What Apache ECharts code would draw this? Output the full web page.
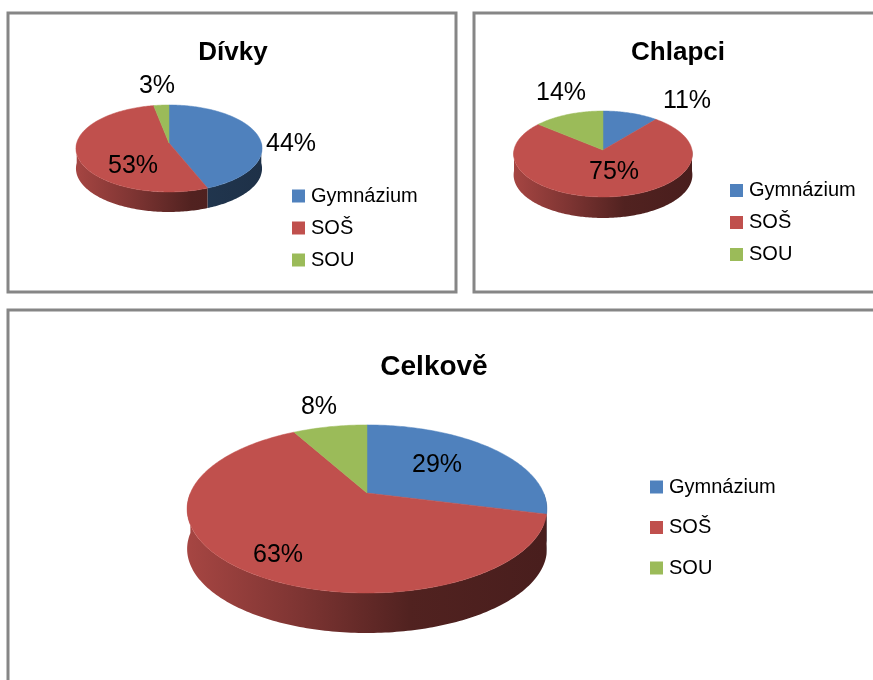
<!DOCTYPE html>
<html><head><meta charset="utf-8">
<style>html,body{margin:0;padding:0;background:#fff}#c{width:873px;height:680px}</style>
<script src="https://cdn.jsdelivr.net/npm/echarts@6/dist/echarts.min.js"></script>
</head><body><div id="c"></div>
<script>
// ---- data ----
const categories = ['Gymnázium', 'SOŠ', 'SOU'];
const panelTitles = ['Dívky', 'Chlapci', 'Celkově'];
const gymnazium = [44, 11, 29];
const sos = [53, 75, 63];
const sou = [3, 14, 8];
const seriesValues = [gymnazium, sos, sou];
const colors = ['#4f81bd', '#c0504d', '#9bbb59'];

// ---- layout (pixels) ----
const pies = [
  {cx:169, cy:143, rx:92.3, ry:42.8, k:0.126, depth:20, labels:[[122,1],[-36,23],[-12,-57]]},
  {cx:603, cy:150, rx:89,   ry:42.6, k:0.093, depth:21, labels:[[84,-49],[11,22],[-42,-57]]},
  {cx:367, cy:493, rx:176.6,ry:81,   k:0.19,  depth:40, labels:[[70,-28],[-89,62],[-48,-86]]}
];
const frames = [[8,13,448,279],[474,13,420,279],[8,310,900,400]];
const titleAt = [[233,40,26],[678,40,26],[434,353,28]];
const legendAt = [[292,186,12],[730,180.5,12],[650,477,20.5]];

const shadeStops = [[0,0.86],[0.3,0.66],[0.62,0.42],[1,0.38]];

function rim(p, deg) {
  const t = deg * Math.PI / 180, u = Math.sin(t), v = Math.cos(t), w = 1 + p.k * v;
  return [p.cx + p.rx * u / w, p.cy - p.ry * v / w];
}
function shade(hex, f) {
  const n = parseInt(hex.slice(1), 16);
  return 'rgb(' + [(n>>16)&255,(n>>8)&255,n&255].map(c => Math.round(c*f)).join(',') + ')';
}
function arc(p, a, b) {
  const pts = [], n = Math.max(2, Math.ceil(Math.abs(b - a)));
  for (let i = 0; i <= n; i++) pts.push(rim(p, a + (b - a) * i / n));
  return pts;
}
function renderSlice(si) {
  return function (params, api) {
    const i = params.dataIndex, p = pies[i], value = api.value(0);
    let before = 0;
    for (let s = 0; s < si; s++) before += seriesValues[s][i];
    const total = seriesValues.reduce((acc, s) => acc + s[i], 0);
    const a = before / total * 360, b = (before + value) / total * 360;
    const children = [];
    const wa = Math.max(a, 90), wb = Math.min(b, 270);
    if (wb > wa) {
      const top = arc(p, wa, wb);
      const bottom = top.map(q => [q[0], q[1] + p.depth]).reverse();
      const x0 = p.cx - p.rx, x1 = p.cx + p.rx;
      children.push({
        type: 'polygon', shape: {points: top.concat(bottom)},
        style: {fill: new echarts.graphic.LinearGradient(x0, 0, x1, 0,
          shadeStops.map(s => ({offset: s[0], color: shade(colors[si], s[1])})), true)}
      });
    }
    children.push({
      type: 'polygon', shape: {points: [[p.cx, p.cy]].concat(arc(p, a, b))},
      style: {fill: colors[si], stroke: colors[si], lineWidth: 0.5}
    });
    children.push({
      type: 'text', z2: 100,
      style: {x: p.cx + p.labels[si][0], y: p.cy + p.labels[si][1], text: value + '%',
        fill: '#000', font: '25px "Liberation Sans"', align: 'center', verticalAlign: 'middle'}
    });
    return {type: 'group', children};
  };
}

const chart = echarts.init(document.getElementById('c'), null, {renderer: 'canvas'});
chart.setOption({
  animation: false,
  color: colors,
  title: panelTitles.map((t, i) => ({
    text: t, left: titleAt[i][0], top: titleAt[i][1], textAlign: 'center', padding: 0,
    textStyle: {fontFamily: 'Liberation Sans', fontWeight: 'bold', fontSize: titleAt[i][2], color: '#000'}
  })),
  legend: legendAt.map(l => ({
    data: categories, orient: 'vertical', left: l[0], top: l[1], padding: 0,
    icon: 'rect', itemWidth: 13, itemHeight: 13, itemGap: l[2], selectedMode: false,
    textStyle: {fontFamily: 'Liberation Sans', fontSize: 20, color: '#000', padding: [0,0,0,1]}
  })),
  graphic: frames.map(f => ({
    type: 'rect', silent: true, z: -1,
    shape: {x: f[0], y: f[1], width: f[2], height: f[3]},
    style: {fill: '#fff', stroke: '#868686', lineWidth: 3}
  })),
  series: categories.map((name, si) => ({
    type: 'custom', name, coordinateSystem: 'none',
    itemStyle: {color: colors[si]},
    data: seriesValues[si].map(v => [v]),
    renderItem: renderSlice(si), silent: true
  }))
});
</script></body></html>
